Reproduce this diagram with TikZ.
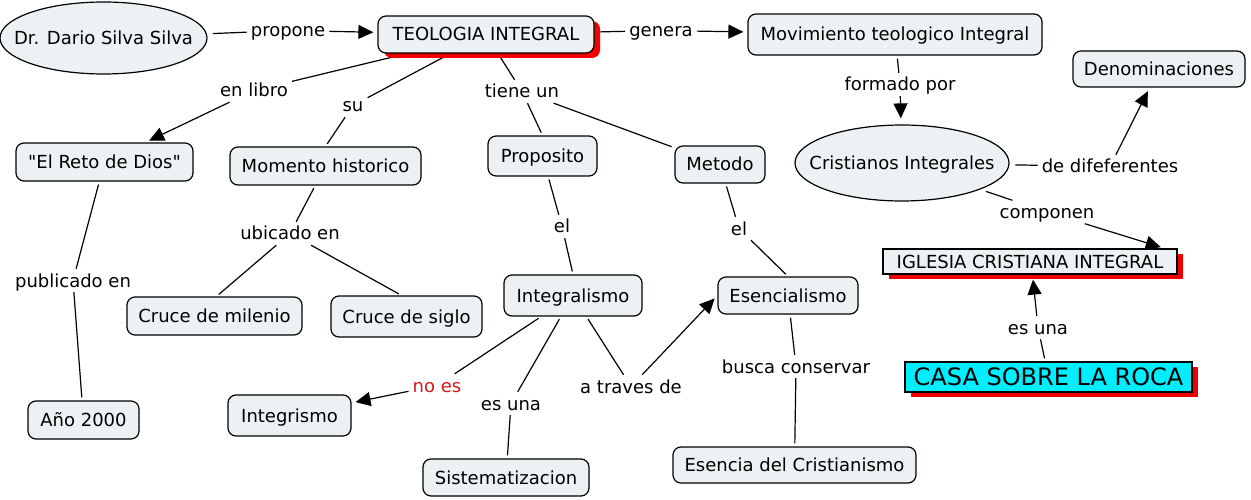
\documentclass[tikz,border=0pt]{standalone}
\usepackage{fontspec}
\setmainfont{DejaVu Sans}
\newfontfamily\dvs{DejaVu Sans}
\usetikzlibrary{arrows.meta,shapes.geometric,shadows}
\definecolor{cfill}{RGB}{236,242,244}
\definecolor{shred}{RGB}{240,0,0}
\definecolor{lblred}{RGB}{215,25,25}
\definecolor{casacyan}{RGB}{0,238,255}
\pgfdeclarelayer{bg}
\pgfsetlayers{bg,main}
\newcommand{\zw}[1]{\makebox[0pt]{#1}}
\begin{document}
\begin{tikzpicture}[x=1pt,y=-1pt,
  every node/.style={font=\dvs\fontsize{18}{22}\selectfont},
  concept/.style={draw=black, line width=1.2pt, fill=cfill, rounded corners=8pt, inner sep=0pt, text height=13pt, text depth=0pt},
  rectnode/.style={concept, sharp corners},
  casabox/.style={draw=black, line width=1.2pt, fill=casacyan, sharp corners, inner sep=0pt, text height=17pt, text depth=0pt, font=\dvs\fontsize{24}{28}\selectfont},
  ell/.style={ellipse, draw=black, line width=1.2pt, fill=cfill, inner sep=0pt, text height=13pt, text depth=0pt},
  lbl/.style={inner xsep=4pt, inner ysep=5pt, text height=13pt, text depth=0pt},
  ln/.style={draw, line width=1.2pt},
  arr/.style={ln, -{Triangle[length=15pt,width=14pt]}, shorten >=4pt},
  redshadow/.style={drop shadow={shadow xshift=6pt, shadow yshift=-5pt, fill=shred, opacity=1}},
]
\path[use as bounding box] (0,0) rectangle (1251,500);
\begin{pgfonlayer}{bg}
\fill[white] (0,0) rectangle (1251,500);
\end{pgfonlayer}

% concepts
\node[ell, minimum width=207pt, minimum height=72pt] (dr) at (103.5,38) {\zw{Dr. Dario Silva Silva}};
\node[concept, minimum width=216pt, minimum height=37pt, redshadow] (teo) at (486,34.5) {TEOLOGIA INTEGRAL};
\node[concept, minimum width=294pt, minimum height=41pt] (mov) at (895,34.5) {Movimiento teologico Integral};
\node[concept, minimum width=172pt, minimum height=36pt] (den) at (1159,69) {Denominaciones};
\node[ell, minimum width=214pt, minimum height=76pt] (cri) at (902,163) {\zw{Cristianos Integrales}};
\node[concept, minimum width=177pt, minimum height=38pt] (reto) at (104.5,162) {"El Reto de Dios"};
\node[concept, minimum width=191pt, minimum height=38pt] (mom) at (325.5,166) {Momento historico};
\node[concept, minimum width=109pt, minimum height=40pt] (pro) at (542.5,156) {Proposito};
\node[concept, minimum width=90pt, minimum height=37pt] (met) at (720,164.5) {Metodo};
\node[rectnode, minimum width=294pt, minimum height=25pt, redshadow] (igl) at (1030,261.5) {IGLESIA CRISTIANA INTEGRAL};
\node[concept, minimum width=175pt, minimum height=38pt] (mil) at (214.5,316) {Cruce de milenio};
\node[concept, minimum width=151pt, minimum height=41pt] (sig) at (406.5,316.5) {Cruce de siglo};
\node[concept, minimum width=138pt, minimum height=41pt] (itl) at (573,295.5) {Integralismo};
\node[concept, minimum width=140pt, minimum height=37pt] (ese) at (788,295.5) {Esencialismo};
\node[casabox, minimum width=287pt, minimum height=30pt, redshadow] (casa) at (1048.5,377) {CASA SOBRE LA ROCA};
\node[concept, minimum width=111pt, minimum height=38pt] (ano) at (83.5,420) {Año 2000};
\node[concept, minimum width=123pt, minimum height=41pt] (itg) at (289.5,415.5) {Integrismo};
\node[concept, minimum width=166pt, minimum height=37pt] (sis) at (506,477.5) {Sistematizacion};
\node[concept, minimum width=243pt, minimum height=36pt] (esc) at (794.5,465) {Esencia del Cristianismo};

% linking phrases
\node[lbl] (lprop) at (288,30.5) {propone};
\node[lbl] (lgen) at (661,30.5) {genera};
\node[lbl] (lform) at (900,84.5) {formado por};
\node[lbl] (llib) at (254,90.5) {en libro};
\node[lbl] (lsu) at (353,105.5) {su};
\node[lbl] (ltiene) at (522,91.5) {tiene un};
\node[lbl] (ldif) at (1110,166.5) {de difeferentes};
\node[lbl] (lcomp) at (1047,212) {componen};
\node[lbl] (lpub) at (73,280.5) {publicado en};
\node[lbl] (lubi) at (290,233.5) {ubicado en};
\node[lbl] (lelA) at (562,226.5) {el};
\node[lbl] (lelB) at (739,228.5) {el};
\node[lbl] (lesunaA) at (1038,327.5) {es una};
\node[lbl, text=lblred] (lnoes) at (437,385.5) {no es};
\node[lbl] (lesunaB) at (511,403.5) {es una};
\node[lbl] (ltrav) at (631,386.5) {a traves de};
\node[lbl] (lbusca) at (796,366.5) {busca conservar};

% plain connectors
\begin{pgfonlayer}{bg}
\draw[ln, shorten <=6pt] (dr) -- (lprop);
\draw[ln, shorten <=3pt] (teo) -- (lgen);
\draw[ln, shorten <=3pt] (mov) -- (lform);
\draw[ln, shorten <=3pt] (teo) -- (llib);
\draw[ln, shorten <=3pt] (teo) -- (lsu);
\draw[ln, shorten >=3pt] (lsu) -- (mom.north);
\draw[ln, shorten <=3pt] (teo) -- (ltiene);
\draw[ln, shorten >=3pt] (ltiene) -- (pro.north);
\draw[ln, shorten >=3pt] (ltiene) -- (met);
\draw[ln, shorten <=6pt] (cri) -- (ldif);
\draw[ln, shorten <=6pt] (cri) -- (lcomp);
\draw[ln, shorten <=3pt] (reto) -- (lpub);
\draw[ln, shorten >=3pt] (lpub) -- (ano);
\draw[ln, shorten <=3pt] (mom) -- (lubi);
\draw[ln, shorten >=3pt] (lubi) -- ([xshift=2pt]mil.north);
\draw[ln, shorten >=3pt] (lubi) -- ([xshift=-5pt]sig.north);
\draw[ln, shorten <=3pt] (pro) -- (lelA);
\draw[ln, shorten >=3pt] (lelA) -- (itl.north);
\draw[ln, shorten <=3pt] (met) -- (lelB);
\draw[ln, shorten >=3pt] (lelB) -- (ese.north);
\draw[ln, shorten <=3pt] (itl) -- (lnoes);
\draw[ln, shorten <=3pt] (itl) -- (lesunaB);
\draw[ln, shorten >=3pt] (lesunaB) -- (sis);
\draw[ln, shorten <=3pt] (itl) -- (ltrav);
\draw[ln, shorten <=3pt] (ese) -- (lbusca);
\draw[ln, shorten >=3pt] (lbusca) -- (esc);
\draw[ln, shorten <=3pt] (casa) -- (lesunaA);
\end{pgfonlayer}

% arrows
\draw[arr] (lprop) -- (teo);
\draw[arr] (lgen) -- (mov);
\draw[arr, shorten >=6pt] (lform) -- (cri);
\draw[arr] (llib) -- (reto);
\draw[arr] (ldif) -- (den);
\draw[arr] (lcomp) -- ([xshift=-13pt]igl.north east);
\draw[arr] (lnoes) -- (itg);
\draw[arr] (ltrav) -- (ese.west);
\draw[arr, shorten >=0pt] (lesunaA) -- ([xshift=3pt,yshift=-5pt]igl.south);
\end{tikzpicture}
\end{document}
